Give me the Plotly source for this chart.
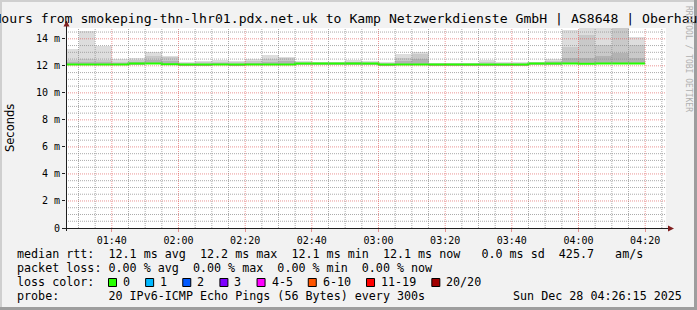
import plotly.graph_objects as go
import pandas as pd

# ---------------- data ----------------
day = "2025-12-28"
end_times = ["01:30", "01:35", "01:40", "01:45", "01:50", "01:55", "02:00", "02:05",
             "02:10", "02:15", "02:20", "02:25", "02:30", "02:35", "02:40", "02:45",
             "02:50", "02:55", "03:00", "03:05", "03:10", "03:15", "03:20", "03:25",
             "03:30", "03:35", "03:40", "03:45", "03:50", "03:55", "04:00", "04:05",
             "04:10", "04:15", "04:20"]
median_ms = [12.1, 12.1, 12.1, 12.1, 12.18, 12.18, 12.12, 12.1, 12.1, 12.1, 12.1, 12.1,
             12.1, 12.1, 12.18, 12.18, 12.18, 12.18, 12.18, 12.1, 12.1, 12.1, 12.1, 12.1,
             12.1, 12.1, 12.1, 12.1, 12.18, 12.18, 12.18, 12.15, 12.18, 12.18, 12.18]
smoke_min = [12.05, 12.05, 12.05, 12.05, 12.12, 12.12, 12.07, 12.05, 12.05, 12.05, 12.05, 12.05,
             12.05, 12.05, 12.12, 12.12, 12.12, 12.12, 12.12, 12.05, 12.05, 12.05, 12.05, 12.05,
             12.05, 12.05, 12.05, 12.05, 12.12, 12.12, 12.12, 12.1, 12.12, 12.12, 12.12]
smoke_max = [13.21, 14.57, 13.46, 12.47, 12.57, 13.01, 12.72, 12.3, 12.38, 12.42, 12.35, 12.52,
             12.77, 12.69, 12.35, 12.3, 12.3, 12.4, 12.35, 12.3, 12.84, 13.04, 12.22, 12.22,
             12.22, 12.4, 12.3, 12.25, 12.3, 12.47, 14.64, 14.95, 14.95, 14.95, 14.12]
smoke_q2 = [12.45, 12.5, 12.45, 12.3, 12.4, 12.72, 12.62, 12.2, 12.25, 12.3, 12.25, 12.35,
            12.5, 12.55, 12.28, 12.25, 12.25, 12.3, 12.28, 12.2, 12.6, 12.85, 12.18, 12.18,
            12.18, 12.25, 12.2, 12.18, 12.25, 12.35, 13.38, 14.25, 13.53, 14.8, 13.53]
smoke_q3 = [12.25, 12.3, 12.25, 12.2, 12.25, 12.4, 12.35, 12.15, 12.15, 12.2, 12.15, 12.2,
            12.3, 12.35, 12.22, 12.22, 12.22, 12.25, 12.22, 12.15, 12.35, 12.5, 12.14, 12.14,
            12.14, 12.15, 12.15, 12.14, 12.22, 12.25, 12.6, 12.55, 12.72, 12.95, 12.6]
x_range = [day + " 01:26:15", day + " 04:26:15"]
y_ticks = [0, 2, 4, 6, 8, 10, 12, 14]
y_tick_labels = ["0", "2 m", "4 m", "6 m", "8 m", "10 m", "12 m", "14 m"]
loss_labels = ["0", "1", "2", "3", "4-5", "6-10", "11-19", "20/20"]
loss_colors = ["#26ff00", "#00b8ff", "#0059ff", "#7e00ff", "#ff00ff", "#ff5500", "#ff0000", "#a10000"]
title_text = "Last 3 Hours from smokeping-thn-lhr01.pdx.net.uk to Kamp Netzwerkdienste GmbH | AS8648 | Oberhausen"
legend_rtt = "median rtt:  12.1 ms avg  12.2 ms max  12.1 ms min  12.1 ms now   0.0 ms sd  425.7   am/s"
legend_loss = "packet loss: 0.00 % avg  0.00 % max  0.00 % min  0.00 % now"
legend_probe = "probe:       20 IPv6-ICMP Echo Pings (56 Bytes) every 300s"
stamp = "Sun Dec 28 04:26:15 2025"

# ---------------- geometry / style ----------------
W, H = 697, 310
L, R, T, B = 66, 666, 28, 228
MONO = "DejaVu Sans Mono"
GRID = "rgba(143,143,143,0.75)"
MGRID = "rgba(222,79,79,0.6)"


def PX(x):
    return (x - L) / (R - L)


def PY(y):
    return (B - y) / (B - T)


def nb(s):
    return s.replace(" ", "\u00a0")


ends = pd.to_datetime([day + " " + t for t in end_times])
step = pd.Timedelta(minutes=5)
starts = ends - step
centers = starts + step / 2

fig = go.Figure()
layers = [(smoke_max, "#dddddd"), (smoke_q2, "#c9c9c9"), (smoke_q3, "#b3b3b3")]
for tops, col in layers:
    fig.add_trace(go.Bar(
        x=centers, y=[t - b for t, b in zip(tops, smoke_min)], base=smoke_min,
        width=step.total_seconds() * 1000, marker=dict(color=col, line=dict(width=0)),
        hoverinfo="skip"))

fig.add_trace(go.Scatter(
    x=list(starts) + [ends[-1]], y=median_ms + [median_ms[-1]],
    mode="lines", line=dict(color="#26ff00", width=2, shape="hv"), hoverinfo="skip"))

shapes = []
# grid (drawn above the smoke, like rrdtool)
t = pd.Timestamp(day + " 01:30")
tend = pd.Timestamp(x_range[1])
while t < tend:
    major = t.minute % 20 == 0
    shapes.append(dict(type="line", xref="x", yref="paper", x0=t.strftime("%Y-%m-%d %H:%M:%S"),
                       x1=t.strftime("%Y-%m-%d %H:%M:%S"), y0=0, y1=1, layer="above",
                       line=dict(color=MGRID if major else GRID, width=1, dash="1px,1px")))
    t += step
v = 0.5
while v < 14.8:
    major = abs(v % 2) < 1e-9
    shapes.append(dict(type="line", xref="paper", yref="y", x0=0, x1=1, y0=v, y1=v, layer="above",
                       line=dict(color=MGRID if major else GRID, width=1, dash="1px,1px")))
    v += 0.5

# axes with arrows
shapes.append(dict(type="line", xref="paper", yref="paper", x0=PX(63), x1=PX(669), y0=PY(228.5), y1=PY(228.5),
                   line=dict(color="#1f1f1f", width=1), layer="above"))
shapes.append(dict(type="line", xref="paper", yref="paper", x0=PX(66.5), x1=PX(66.5), y0=PY(231), y1=PY(24),
                   line=dict(color="#1f1f1f", width=1), layer="above"))
shapes.append(dict(type="path", xref="paper", yref="paper",
                   path=f"M {PX(668)} {PY(225.5)} L {PX(674)} {PY(228.5)} L {PX(668)} {PY(231.5)} Z",
                   fillcolor="#801f1f", line=dict(width=0), layer="above"))
shapes.append(dict(type="path", xref="paper", yref="paper",
                   path=f"M {PX(63.5)} {PY(26.5)} L {PX(66.5)} {PY(20.5)} L {PX(69.5)} {PY(26.5)} Z",
                   fillcolor="#801f1f", line=dict(width=0), layer="above"))

# frame
for x0, y0, x1, y1, c in [(0, 0, W, 2, "#cfcfcf"), (0, 0, 2, H, "#cfcfcf"),
                          (W - 3, 0, W, H, "#9e9e9e"), (0, H - 3, W, H, "#9e9e9e")]:
    shapes.append(dict(type="rect", xref="paper", yref="paper", x0=PX(x0), x1=PX(x1), y0=PY(y0), y1=PY(y1),
                       fillcolor=c, line=dict(width=0), layer="above"))

# loss colour boxes
annotations = []
bx = 108
for lab, col in zip(loss_labels, loss_colors):
    shapes.append(dict(type="rect", xref="paper", yref="paper", x0=PX(bx + 0.5), x1=PX(bx + 8.5),
                       y0=PY(278.5), y1=PY(286.5), fillcolor=col, line=dict(color="black", width=1)))
    annotations.append(dict(text=nb(lab), x=PX(bx + 14), y=PY(286 - 0.35 * 11.7), xref="paper", yref="paper",
                            xanchor="left", yanchor="middle", showarrow=False, borderpad=0,
                            font=dict(family=MONO, size=11.7, color="black")))
    bx = bx + 15 + len(lab) * 7.04 + 15.1

FS = 11.7
for txt, base in [(legend_rtt, 258), (legend_loss, 272), ("loss color:", 286), (legend_probe, 300)]:
    annotations.append(dict(text=nb(txt), x=PX(15.5), y=PY(base - 0.35 * FS), xref="paper", yref="paper",
                            xanchor="left", yanchor="middle", showarrow=False, borderpad=0,
                            font=dict(family=MONO, size=FS, color="black")))
annotations.append(dict(text=nb(stamp), x=PX(512), y=PY(300 - 0.35 * FS), xref="paper", yref="paper",
                        xanchor="left", yanchor="middle", showarrow=False, borderpad=0,
                        font=dict(family=MONO, size=FS, color="black")))
# title (wider than the image, centred and clipped like the original)
annotations.append(dict(text=nb(title_text), x=PX(-63.3), y=PY(23.5 - 0.35 * 13.15), xref="paper", yref="paper",
                        xanchor="left", yanchor="middle", showarrow=False, borderpad=0,
                        font=dict(family=MONO, size=13.15, color="black")))
annotations.append(dict(text="Seconds", x=PX(10), y=PY(128), xref="paper", yref="paper", textangle=-90,
                        xanchor="center", yanchor="middle", showarrow=False, borderpad=0,
                        font=dict(family="DejaVu Sans", size=11.5, color="black")))
annotations.append(dict(text=nb("RRDTOOL / TOBI OETIKER"), x=PX(689), y=PY(59), xref="paper", yref="paper",
                        textangle=90, xanchor="center", yanchor="middle", showarrow=False, borderpad=0,
                        font=dict(family=MONO, size=8, color="#b0b0b0")))

fig.update_layout(
    width=W, height=H, margin=dict(l=L, r=W - R, t=T, b=H - B),
    paper_bgcolor="#f2f2f2", plot_bgcolor="#ffffff", showlegend=False,
    barmode="overlay", bargap=0, shapes=shapes, annotations=annotations)
fig.update_xaxes(type="date", range=x_range, showgrid=False, zeroline=False, showline=False,
                 tickmode="linear", tick0=day + " 01:40", dtick=1200000, tickformat="%H:%M",
                 ticks="outside", ticklen=3, tickcolor=MGRID,
                 tickfont=dict(family=MONO, size=10, color="black"))
fig.update_yaxes(range=[0, 14.8], tickmode="array", tickvals=y_ticks, ticktext=y_tick_labels,
                 showgrid=False, zeroline=False, showline=False, ticks="outside", ticklen=3,
                 tickcolor="#1f1f1f", tickfont=dict(family=MONO, size=10, color="black"))

fig.write_html("out.html", config={"displayModeBar": False})
